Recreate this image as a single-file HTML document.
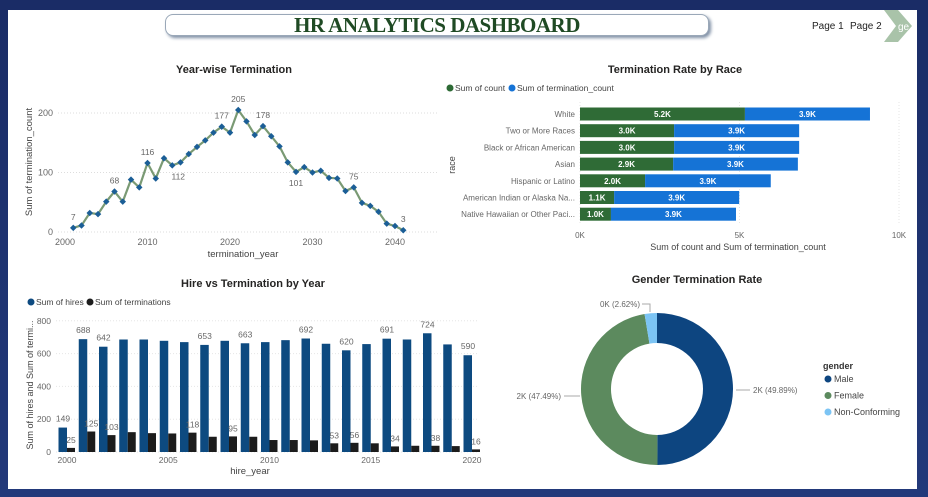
<!DOCTYPE html>
<html><head><meta charset="utf-8">
<style>
body{margin:0;width:928px;height:497px;overflow:hidden;background:#1b2f6b;font-family:"Liberation Sans",sans-serif;}
#frame{position:absolute;left:0;top:0;width:928px;height:497px;background:linear-gradient(#1a2c66,#22397a);}
#panel{position:absolute;left:8px;top:10px;width:909px;height:479px;background:#fff;}
#title{position:absolute;left:165px;top:14px;width:542px;height:20px;border:1px solid #9aa8b8;border-radius:8px;box-shadow:2px 2px 3px #7f8fa5;background:#fff;text-align:center;font-family:"Liberation Serif",serif;font-weight:bold;font-size:21px;line-height:20px;color:#1f4a24;letter-spacing:-0.5px;}
.pg{position:absolute;top:21px;font-size:10px;color:#222;}
svg text{font-family:"Liberation Sans",sans-serif;}
</style></head><body>
<div id="frame"></div>
<div id="panel"></div>
<div id="title">HR ANALYTICS DASHBOARD</div>
<div class="pg" style="left:812px">Page 1</div>
<div class="pg" style="left:850px">Page 2</div>
<svg style="position:absolute;left:884px;top:10px" width="33" height="32"><polygon points="0,0 14,0 28,16 14,32 0,32 12,16" fill="#a9c3a9"/><text x="14" y="20" font-size="10" fill="#fff">ge 3</text></svg>
<svg id="chart" style="position:absolute;left:0;top:0" width="928" height="497"></svg>
<script>
// Line chart data
const lineYears=[2001,2002,2003,2004,2005,2006,2007,2008,2009,2010,2011,2012,2013,2014,2015,2016,2017,2018,2019,2020,2021,2022,2023,2024,2025,2026,2027,2028,2029,2030,2031,2032,2033,2034,2035,2036,2037,2038,2039,2040,2041];
const lineVals=[7,11,32,30,51,68,51,88,75,116,90,124,112,117,131,143,154,167,177,167,205,186,163,178,161,144,117,101,109,100,103,91,90,69,75,49,44,34,14,10,3];
const lineLabeled=[2001,2006,2010,2013,2019,2021,2024,2028,2035,2041];
const lineXTicks=[2000,2010,2020,2030,2040];
const lineYTicks=[0,100,200];
// Bar chart data
const barYears=[2000,2001,2002,2003,2004,2005,2006,2007,2008,2009,2010,2011,2012,2013,2014,2015,2016,2017,2018,2019,2020];
const hires=[149,688,642,686,686,678,670,653,678,663,670,682,692,660,620,658,691,686,724,656,590];
const terms=[25,125,103,121,115,113,118,93,95,93,73,73,71,53,56,53,34,38,38,36,16];
const hireLabeled=[2000,2001,2002,2007,2009,2012,2014,2016,2018,2020];
const termLabeled=[2000,2001,2002,2006,2008,2013,2014,2016,2018,2020];
const barXTicks=[2000,2005,2010,2015,2020];
const barYTicks=[0,200,400,600,800];
// Race data
const races=["White","Two or More Races","Black or African American","Asian","Hispanic or Latino","American Indian or Alaska Na...","Native Hawaiian or Other Paci..."];
const raceCount=[5.17,2.95,2.95,2.92,2.04,1.07,0.97];
const raceTerm=[3.92,3.92,3.92,3.91,3.94,3.92,3.92];
const raceXTicks=[0,5,10];
// Gender data
const genders=["Male","Female","Non-Conforming"];
const genderPct=[49.89,47.49,2.62];
const genderLabels=["2K (49.89%)","2K (47.49%)","0K (2.62%)"];

const NS="http://www.w3.org/2000/svg";
const svg=document.getElementById('chart');
function mk(tag,attrs,parent,txt){const e=document.createElementNS(NS,tag);for(const k in attrs)e.setAttribute(k,attrs[k]);if(txt!==undefined)e.textContent=txt;(parent||svg).appendChild(e);return e;}
function txt(x,y,s,o,name){const e=mk('text',Object.assign({x:x,y:y,'font-size':9,fill:'#666'},o||{}),svg,s);

return e;}

// ---------- Line chart ----------
const lx=y=>65+(y-2000)*8.25, ly=v=>232-v*0.595;
txt(234,73,"Year-wise Termination",{'font-size':11,'font-weight':'bold',fill:'#252423','text-anchor':'middle'},'line-chart-title');
lineYTicks.forEach(t=>{const g=mk('line',{x1:58,x2:438,y1:ly(t),y2:ly(t),stroke:'#ddd','stroke-dasharray':'1,2'});

txt(53,ly(t)+3,String(t),{'text-anchor':'end'},'line-y-tick');});
lineXTicks.forEach(t=>{txt(lx(t),245,String(t),{'text-anchor':'middle'},'line-x-tick');});
txt(243,257,"termination_year",{'font-size':9.5,fill:'#444','text-anchor':'middle'},'line-x-axis-title');
txt(0,0,"Sum of termination_count",{'font-size':9.5,fill:'#444','text-anchor':'middle',transform:'translate(32,162) rotate(-90)'},'line-y-axis-title');
const pl=mk('polyline',{points:lineYears.map((y,i)=>lx(y)+','+ly(lineVals[i])).join(' '),fill:'none',stroke:'#7a9a74','stroke-width':2.2});

lineYears.forEach((y,i)=>{const c=mk('rect',{x:lx(y)-2.3,y:ly(lineVals[i])-2.3,width:4.6,height:4.6,fill:'#1b5e96',transform:`rotate(45 ${lx(y)} ${ly(lineVals[i])})`});

if(lineLabeled.includes(y)){const below=(y===2013||y===2028);txt(lx(y)+(y===2013?6:0),ly(lineVals[i])+(below?14:-8),String(lineVals[i]),{'text-anchor':'middle','font-size':8.5},'line-data-label');}});

// ---------- Race bar chart ----------
const rx=v=>580+v*31.9;
txt(675,73,"Termination Rate by Race",{'font-size':11,'font-weight':'bold',fill:'#252423','text-anchor':'middle'},'race-chart-title');
mk('circle',{cx:450,cy:88,r:3.5,fill:'#2d6a35'});
txt(455,91,"Sum of count",{'font-size':8.5,fill:'#444'},'legend-count');
mk('circle',{cx:512,cy:88,r:3.5,fill:'#1573d6'});
txt(517,91,"Sum of termination_count",{'font-size':8.5,fill:'#444'},'legend-termination');
raceXTicks.forEach(t=>{const g=mk('line',{x1:rx(t),x2:rx(t),y1:102,y2:225,stroke:'#e6e6e6','stroke-dasharray':'1,2'});

txt(rx(t),238,t+"K",{'text-anchor':'middle','font-size':8},'race-x-tick');});
txt(738,250,"Sum of count and Sum of termination_count",{'font-size':9,fill:'#444','text-anchor':'middle'},'race-x-axis-title');
txt(0,0,"race",{'font-size':9,fill:'#444','text-anchor':'middle',transform:'translate(455,165) rotate(-90)'},'race-y-axis-title');
races.forEach((r,i)=>{const cy=114+i*16.7;
txt(575,cy+3,r,{'text-anchor':'end','font-size':8},'race-category-label');
const a=mk('rect',{x:rx(0),y:cy-6.5,width:rx(raceCount[i])-rx(0),height:13,fill:'#2f6b36'});

const b=mk('rect',{x:rx(raceCount[i]),y:cy-6.5,width:rx(raceTerm[i])-rx(0),height:13,fill:'#1573d6'});

txt((rx(0)+rx(raceCount[i]))/2,cy+3,raceCount[i].toFixed(1)+"K",{'text-anchor':'middle','font-size':8,fill:'#fff','font-weight':'bold'},'race-count-label');
txt(rx(raceCount[i])+(rx(raceTerm[i])-rx(0))/2,cy+3,raceTerm[i].toFixed(1)+"K",{'text-anchor':'middle','font-size':8,fill:'#fff','font-weight':'bold'},'race-term-label');});

// ---------- Hire vs Termination ----------
const bx=y=>67+(y-2000)*20.25, by=v=>452-v*0.164;
txt(253,287,"Hire vs Termination by Year",{'font-size':11,'font-weight':'bold',fill:'#252423','text-anchor':'middle'},'bar-chart-title');
mk('circle',{cx:31,cy:302,r:3.5,fill:'#0d4a80'});
txt(36,305,"Sum of hires",{'font-size':8.5,fill:'#444'},'legend-hires');
mk('circle',{cx:90,cy:302,r:3.5,fill:'#1c1c1c'});
txt(95,305,"Sum of terminations",{'font-size':8.5,fill:'#444'},'legend-terminations');
barYTicks.forEach(t=>{const g=mk('line',{x1:56,x2:478,y1:by(t),y2:by(t),stroke:'#e6e6e6','stroke-dasharray':'1,2'});

txt(51,by(t)+3,String(t),{'text-anchor':'end','font-size':8.5},'bar-y-tick');});
barXTicks.forEach(t=>txt(bx(t),463,String(t),{'text-anchor':'middle','font-size':8.5},'bar-x-tick'));
txt(250,474,"hire_year",{'font-size':9.5,fill:'#444','text-anchor':'middle'},'bar-x-axis-title');
txt(0,0,"Sum of hires and Sum of termi...",{'font-size':9,fill:'#444','text-anchor':'middle',transform:'translate(33,385) rotate(-90)'},'bar-y-axis-title');
barYears.forEach((y,i)=>{const c=bx(y);
const h=mk('rect',{x:c-8.5,y:by(hires[i]),width:8.5,height:452-by(hires[i]),fill:'#0d4a80'});

const t=mk('rect',{x:c,y:by(terms[i]),width:8,height:452-by(terms[i]),fill:'#1c1c1c'});

if(hireLabeled.includes(y))txt(c-4,by(hires[i])-6,String(hires[i]),{'text-anchor':'middle','font-size':8.5},'hires-label');
if(termLabeled.includes(y))txt(c+4,by(terms[i])-5,String(terms[i]),{'text-anchor':'middle','font-size':8.5},'terminations-label');});

// ---------- Donut ----------
txt(697,283,"Gender Termination Rate",{'font-size':11,'font-weight':'bold',fill:'#252423','text-anchor':'middle'},'donut-chart-title');
const cx=657,cy=389,R=76,r0=46,cols=['#0d4580','#5c8a5e','#7cc4f4'];
let acc=0;
genderPct.forEach((p,i)=>{const a0=acc/100*2*Math.PI,a1=(acc+p)/100*2*Math.PI;acc+=p;
const P=(a,rr)=>[cx+rr*Math.sin(a),cy-rr*Math.cos(a)];const lg=(a1-a0)>Math.PI?1:0;
const [x0,y0]=P(a0,R),[x1,y1]=P(a1,R),[x2,y2]=P(a1,r0),[x3,y3]=P(a0,r0);
const s=mk('path',{d:`M${x0},${y0}A${R},${R} 0 ${lg} 1 ${x1},${y1}L${x2},${y2}A${r0},${r0} 0 ${lg} 0 ${x3},${y3}Z`,fill:cols[i]});
});
mk('polyline',{points:'736,390 750,390',stroke:'#aaa',fill:'none'});
txt(753,393,genderLabels[0],{'font-size':8},'male-data-label');
mk('polyline',{points:'564,396 580,396',stroke:'#aaa',fill:'none'});
txt(561,399,genderLabels[1],{'font-size':8,'text-anchor':'end'},'female-data-label');
mk('polyline',{points:'642,304 650,304 650,312',stroke:'#aaa',fill:'none'});
txt(640,307,genderLabels[2],{'font-size':8,'text-anchor':'end'},'nonconforming-data-label');
txt(823,369,"gender",{'font-size':9,'font-weight':'bold',fill:'#333'},'gender-legend-title');
genders.forEach((g,i)=>{mk('circle',{cx:828,cy:379+i*16.5,r:3.5,fill:cols[i]});
txt(834,382+i*16.5,g,{'font-size':9,fill:'#444'},'gender-legend-entry');});
</script>
</body></html>
